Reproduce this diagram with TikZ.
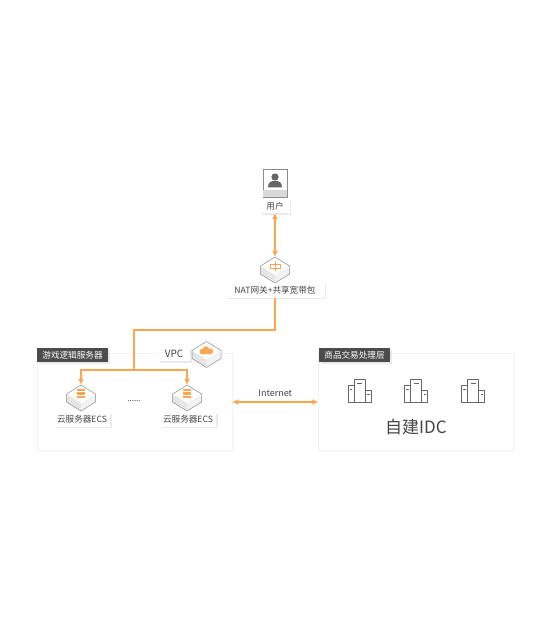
\documentclass[tikz,border=0pt]{standalone}
\usepackage{fontspec}
\setmainfont{Noto Sans CJK SC}
\usetikzlibrary{arrows.meta,shadows,shapes.misc}
\definecolor{linkorange}{HTML}{FFA54F}
\definecolor{darktitle}{HTML}{4C4C4C}
\definecolor{iconedge}{HTML}{8C8C8C}
\definecolor{icongray}{HTML}{666666}
\definecolor{txtgray}{HTML}{444444}
\tikzset{
  softshadow/.style={drop shadow={shadow xshift=1.5pt,shadow yshift=-1.5pt,opacity=.16,fill=gray}},
  labelbox/.style={fill=white,softshadow,inner sep=0pt,minimum height=14pt,font=\fontsize{8.6}{8.6}\selectfont,text=txtgray},
  titlebox/.style={fill=darktitle,softshadow,inner sep=0pt,minimum width=71pt,minimum height=14pt,font=\fontsize{8.6}{8.6}\selectfont,text=white},
  panelbox/.style={chamfered rectangle,chamfered rectangle corners=north east,chamfered rectangle xsep=8pt,chamfered rectangle ysep=5pt,
    draw=gray!10,fill=white,inner sep=0pt,minimum width=195pt,minimum height=97pt,
    drop shadow={shadow xshift=.8pt,shadow yshift=-.8pt,opacity=.14,fill=gray}},
  link/.style={draw=linkorange,line width=1.5pt},
  cubespot/.style={inner sep=0pt,minimum width=29pt,minimum height=26pt}
}
\newcommand{\cubeicon}[2]{
  \node[cubespot] (#1) at (#2) {};
  \begin{scope}[shift={(#2)}]
    \fill[gray!20] (-14.5,-4)--(0,5)--(0,13)--(-14.5,4)--cycle;
    \fill[gray!10] (14.5,-4)--(0,5)--(0,13)--(14.5,4)--cycle;
    \fill[white] (0,-13)--(14.5,-4)--(0,5)--(-14.5,-4)--cycle;
    \draw[iconedge,line width=.5pt,line join=round] (0,-13)--(14.5,-4)--(14.5,4)--(0,13)--(-14.5,4)--(-14.5,-4)--cycle;
  \end{scope}
}
\newcommand{\serverbars}[1]{
  \foreach \dy in {-8,-4.5,-1}
    \fill[linkorange,shift={(#1)}] (-4,\dy-1.4) rectangle (4,\dy+1.4);
}
\begin{document}
\begin{tikzpicture}[x=1pt,y=-1pt,>={Latex[length=6pt,width=6pt]}]
  \useasboundingbox (0,0) rectangle (550,620);
  \fill[white] (0,0) rectangle (550,620);
  % two panels
  \node[panelbox] (gamepanel) at (134.5,402) {};
  \node[panelbox] (idcpanel) at (416,402) {};
  \node[titlebox] (gametitle) at (72.5,355) {游戏逻辑服务器};
  \node[titlebox] (idctitle) at (354.5,355) {商品交易处理层};
  % user
  \node[draw=iconedge,fill=white,inner sep=0pt,minimum width=24pt,minimum height=28pt] (usericon) at (275,183) {};
  \fill[gray!30] (263.3,190) rectangle (286.7,196.7);
  \fill[icongray] (275,177) circle (3.6);
  \fill[icongray] (268,187.5) .. controls (268,182) and (271,181) .. (275,181) .. controls (279,181) and (282,182) .. (282,187.5) -- cycle;
  \node[labelbox,minimum width=29pt] (userlabel) at (275,206) {用户};
  % NAT
  \cubeicon{natcube}{275,270}
  \draw[linkorange,line width=.7pt] (270,264) rectangle (280,268) (275,261) -- (275,271);
  \node[labelbox,minimum width=99pt] (natlabel) at (275,290.5) {NAT网关+共享宽带包};
  % ECS and VPC
  \cubeicon{ecsa}{81,398}
  \serverbars{81,398}
  \cubeicon{ecsb}{187,398}
  \serverbars{187,398}
  \node[labelbox,minimum width=56pt] (ecsalabel) at (82,419.5) {云服务器ECS};
  \node[labelbox,minimum width=56pt] (ecsblabel) at (188,419.5) {云服务器ECS};
  \node[font=\fontsize{8}{8}\selectfont,text=txtgray] (dots) at (134,401) {......};
  \node[labelbox,minimum width=32pt,drop shadow={opacity=0},font=\fontsize{10}{10}\selectfont] (vpclabel) at (174,354) {VPC};
  \cubeicon{vpccube}{206.5,354.5}
  \fill[linkorange] (202,351.5) circle (2.4) (206,349.5) circle (3.2) (210.5,351) circle (2.6);
  \fill[linkorange,rounded corners=1pt] (200,351) rectangle (212.5,354);
  % buildings
  \foreach \bx in {359.5,416,473}{
    \begin{scope}[shift={(\bx,0)},icongray,line width=1pt,line join=round]
      \draw (-5.5,402) -- (-5.5,379.5) -- (5.5,379.5) -- (5.5,402);
      \draw (-5.5,385) -- (-11.5,385) -- (-11.5,402) -- (11.5,402) -- (11.5,390) -- (5.5,390);
      \draw[line width=.7pt] (-2.5,383.5) -- (2.5,383.5) (-10,389.5) -- (-7.5,389.5) (7.5,394.5) -- (10,394.5);
    \end{scope}
  }
  \node[font=\fontsize{17}{17}\selectfont,text=txtgray] (idctext) at (416,427) {自建IDC};
  % links
  \draw[link,<->] (userlabel.south) -- (natcube.north);
  \coordinate (splitpt) at (134,370);
  \draw[link] (natlabel.south) |- (134,330) -- (splitpt);
  \draw[link,->] (splitpt) -| (ecsa.north);
  \draw[link,->] (splitpt) -| (ecsb.north);
  \draw[link,<->] (gamepanel.east) -- node[above=1pt,font=\fontsize{9}{9}\selectfont,text=txtgray] {Internet} (idcpanel.west);
\end{tikzpicture}
\end{document}
